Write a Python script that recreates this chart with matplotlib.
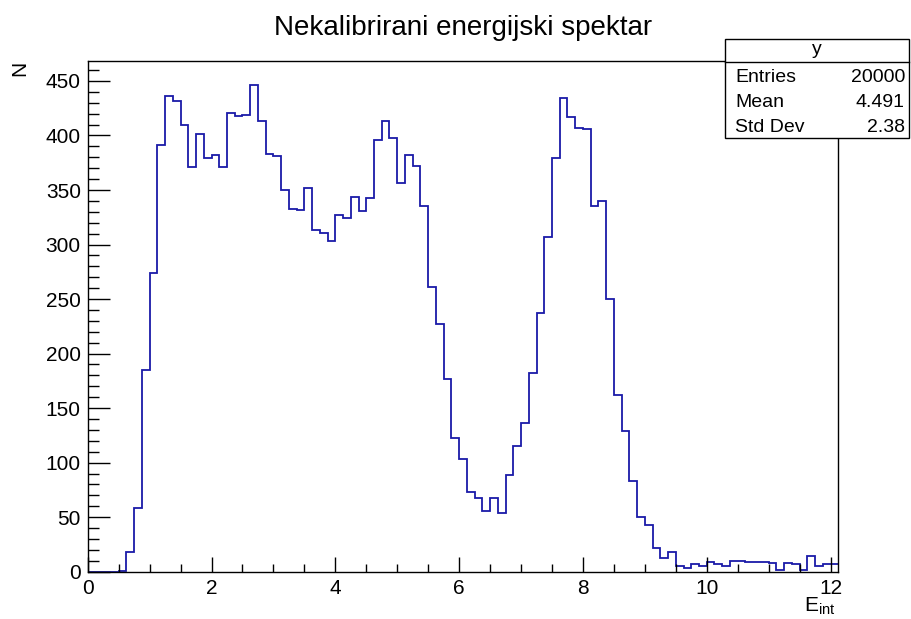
import numpy as np
import matplotlib
matplotlib.use('Agg')
import matplotlib.pyplot as plt
from matplotlib.patches import Rectangle
from matplotlib.ticker import MultipleLocator

# bin contents, 0.125 wide bins starting at 0
counts = [
    0, 0, 0, 0, 1, 18, 58, 185, 274, 391,
    436, 432, 410, 371, 401, 379, 382, 371, 421, 418,
    419, 446, 413, 383, 381, 350, 333, 332, 352, 313,
    311, 303, 327, 324, 344, 331, 343, 396, 413, 398,
    356, 382, 372, 335, 261, 227, 177, 123, 103, 73,
    68, 56, 68, 54, 89, 115, 136, 182, 237, 307,
    379, 434, 417, 407, 406, 335, 340, 250, 162, 129,
    83, 50, 43, 22, 13, 18, 5, 3, 7, 5,
    9, 7, 5, 10, 10, 9, 9, 9, 8, 2,
    8, 7, 2, 14, 5, 7, 7,
]
bin_width = 0.125

title = 'Nekalibrirani energijski spektar'
stats_name = 'y'
stats_rows = [('Entries', '20000'), ('Mean', '4.491'), ('Std Dev', '2.38')]

plt.rcParams['font.family'] = ['Liberation Sans', 'DejaVu Sans']
plt.rcParams['mathtext.default'] = 'regular'

W, H = 911, 619
fig = plt.figure(figsize=(W / 100, H / 100), dpi=100)
ax = fig.add_axes([87.7 / W, 1 - 571.7 / H, (838.3 - 87.7) / W, (571.7 - 61) / H])

edges = np.arange(len(counts) + 1) * bin_width
ax.stairs(counts, edges, baseline=None, color='#1a1aa8', linewidth=1.3)

ax.set_xlim(0, edges[-1])
ax.set_ylim(0, max(counts) * 1.05)

ax.xaxis.set_major_locator(MultipleLocator(2))
ax.xaxis.set_minor_locator(MultipleLocator(0.5))
ax.yaxis.set_major_locator(MultipleLocator(50))
ax.yaxis.set_minor_locator(MultipleLocator(10))
ax.tick_params(which='both', direction='in', top=False, right=False, labelsize=15, colors='black')
ax.tick_params(axis='x', which='major', length=11, width=1, pad=5)
ax.tick_params(axis='x', which='minor', length=6, width=1)
ax.tick_params(axis='y', which='major', length=16, width=1, pad=5)
ax.tick_params(axis='y', which='minor', length=8, width=1)
for s in ax.spines.values():
    s.set_linewidth(1)

fig.text(463 / W, 1 - 28 / H, title, ha='center', va='center', fontsize=20)
fig.text(20 / W, 1 - 68 / H, 'N', ha='center', va='center', rotation=90, fontsize=15)
fig.text(836 / W, 1 - 606 / H, r'$E_{int}$', ha='right', va='center', fontsize=15)

# stats box
bx0, bx1, by0, by1, bsep = 725, 909, 39, 138, 62
fig.patches.append(Rectangle((bx0 / W, 1 - by1 / H), (bx1 - bx0) / W, (by1 - by0) / H,
                             transform=fig.transFigure, facecolor='white',
                             edgecolor='black', linewidth=1, zorder=5))
fig.add_artist(plt.Line2D([bx0 / W, bx1 / W], [1 - bsep / H, 1 - bsep / H],
                          transform=fig.transFigure, color='black', linewidth=1, zorder=6))
fig.text((bx0 + bx1) / 2 / W, 1 - 50 / H, stats_name, ha='center', va='center', fontsize=14, zorder=7)
for i, (name, val) in enumerate(stats_rows):
    yy = 1 - (77 + 25.5 * i) / H
    fig.text(735 / W, yy, name, ha='left', va='center', fontsize=14, zorder=7)
    fig.text(905 / W, yy, val, ha='right', va='center', fontsize=14, zorder=7)

fig.savefig('out.png', dpi=100)
